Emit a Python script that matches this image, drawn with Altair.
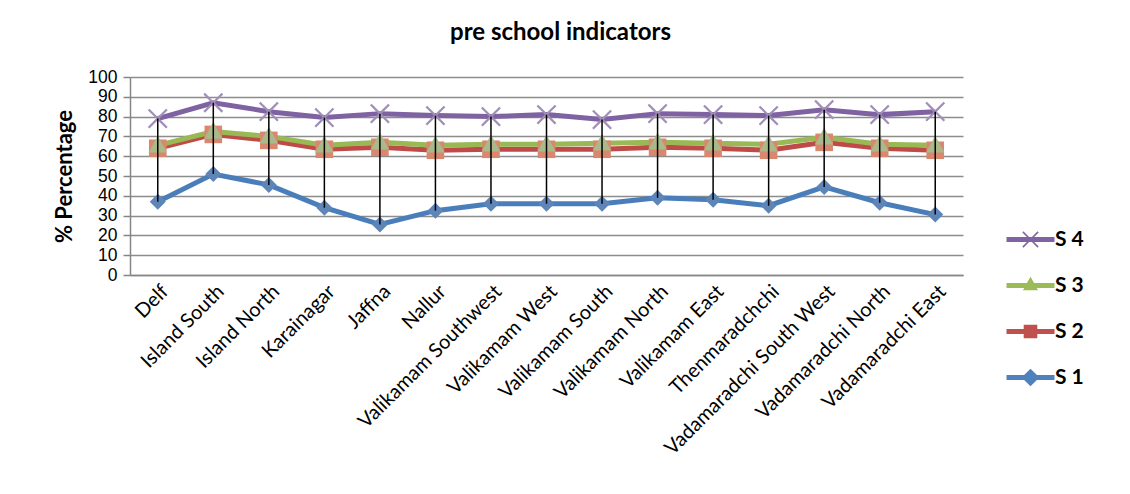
import altair as alt
import pandas as pd

districts = ["Delf", "Island South", "Island North", "Karainagar", "Jaffna", "Nallur",
             "Valikamam Southwest", "Valikamam West", "Valikamam South", "Valikamam North",
             "Valikamam East", "Thenmaradchchi", "Vadamaradchi South West",
             "Vadamaradchi North", "Vadamaradchi East"]
s1 = [37, 51, 45.5, 34, 25.5, 32.5, 36, 36, 36, 39, 38, 35, 44.5, 36.5, 30.5]
s2 = [64, 71, 68, 63.5, 64.5, 63, 63.5, 63.5, 63.5, 64.5, 64, 63, 67, 64, 63]
s3 = [65.5, 72.5, 70, 65.5, 67, 65.5, 66, 66, 66.5, 67, 66.5, 66, 69.5, 66, 65.5]
s4 = [79, 87, 82.5, 79.5, 81.5, 80.5, 80, 81, 78.5, 81.5, 81, 80.5, 83.5, 81, 82.5]
series_names = ["S 1", "S 2", "S 3", "S 4"]
y_ticks = [0, 10, 20, 30, 40, 50, 60, 70, 80, 90, 100]

line_colors = ["#4A7EBB", "#BE4B48", "#98B954", "#7E62A1"]
marker_colors = ["#5E85B8", "#D9876F", "#AAB98A", "#A08FB8"]
marker_paths = [
    "M0,-1L1,0L0,1L-1,0Z",
    "M-1.1,-1.1L1.1,-1.1L1.1,1.1L-1.1,1.1Z",
    "M0,-1.2L1.15,0.9L-1.15,0.9Z",
    "M0.2,0L1.24,1.04L1.04,1.24L0,0.2L-1.04,1.24L-1.24,1.04L-0.2,0L-1.24,-1.04L-1.04,-1.24L0,-0.2L1.04,-1.24L1.24,-1.04Z",
]
legend_order = ["S 4", "S 3", "S 2", "S 1"]
legend_colors = ["#8064A2", "#9BBB59", "#C0504D", "#4F81BD"]
legend_paths = [
    "M-3,-0.3L3,-0.3L3,0.3L-3,0.3Z M0.14,0L1.02,0.88L0.88,1.02L0,0.14L-0.88,1.02L-1.02,0.88L-0.14,0L-1.02,-0.88L-0.88,-1.02L0,-0.14L0.88,-1.02L1.02,-0.88Z",
    "M-3,-0.3L-0.45,-0.3L0,-1.1L0.45,-0.3L3,-0.3L3,0.3L0.78,0.3L0.95,0.6L-0.95,0.6L-0.78,0.3L-3,0.3Z",
    "M-3,-0.3L-0.85,-0.3L-0.85,-0.85L0.85,-0.85L0.85,-0.3L3,-0.3L3,0.3L0.85,0.3L0.85,0.85L-0.85,0.85L-0.85,0.3L-3,0.3Z",
    "M-3,-0.3L-0.8,-0.3L0,-1.1L0.8,-0.3L3,-0.3L3,0.3L0.8,0.3L0,1.1L-0.8,0.3L-3,0.3Z",
]

rows = []
for name, vals in zip(series_names, [s1, s2, s3, s4]):
    for d, v in zip(districts, vals):
        rows.append({"district": d, "series": name, "value": v})
df = pd.DataFrame(rows)

FONT = "Lato"

x_enc = alt.X("district:N", sort=districts, title=None,
              scale=alt.Scale(type="point", padding=0.5),
              axis=alt.Axis(labelAngle=-45, labelAlign="right", labelBaseline="top",
                            labelFont=FONT, labelFontSize=20, labelColor="black",
                            labelPadding=6, labelLimit=400, ticks=False, grid=False,
                            labelOverlap=False,
                            domainColor="#868686", domainWidth=1.5))
y_axis = alt.Axis(values=y_ticks, labelFont="Liberation Sans", labelFontSize=17.5,
                  labelColor="black", labelOverlap=False,
                  tickColor="#868686", tickSize=7, tickWidth=1.5, labelPadding=6,
                  domainColor="#868686", domainWidth=1.5, gridColor="#8C8C8C", gridWidth=1.5,
                  titleFont=FONT, titleFontSize=22, titleFontWeight="bold", titleColor="black",
                  titlePadding=11)
y_scale = alt.Scale(domain=[0, 100], nice=False)
y_enc = alt.Y("value:Q", scale=y_scale, axis=y_axis, title="% Percentage")

base = alt.Chart(df)

lines = base.mark_line(strokeWidth=5).encode(
    x=x_enc,
    y=y_enc,
    stroke=alt.Stroke("series:N", scale=alt.Scale(domain=series_names, range=line_colors), legend=None),
)

point_layers = []
for name, col, path in zip(series_names, marker_colors, marker_paths):
    point_layers.append(
        base.transform_filter(alt.datum.series == name)
        .mark_point(filled=True, size=256, opacity=1, strokeWidth=0, shape=path, fill=col)
        .encode(x=x_enc, y=y_enc)
    )

hilo = base.mark_rule(color="black", strokeWidth=1.5).encode(
    x=x_enc,
    y=alt.Y("min(value):Q", scale=y_scale, axis=y_axis, title="% Percentage"),
    y2="max(value):Q",
)

leg = alt.Legend(title=None, orient="none", legendX=890, legendY=152,
                 labelFont=FONT, labelFontSize=21, labelFontWeight="bold",
                 labelColor="black", labelOffset=14, rowPadding=24,
                 padding=0, symbolSize=256, symbolStrokeWidth=0, symbolOpacity=1)

legend_layer = base.transform_filter("false").mark_point(
    filled=True, size=256, opacity=1, strokeWidth=0
).encode(
    x=x_enc,
    y=y_enc,
    color=alt.Color("series:N", scale=alt.Scale(domain=legend_order, range=legend_colors), legend=leg),
    shape=alt.Shape("series:N", scale=alt.Scale(domain=legend_order, range=legend_paths), legend=leg),
)

chart = alt.layer(lines, *point_layers, hilo, legend_layer).properties(
    width=833, height=198,
    autosize=alt.AutoSizeParams(type="none"),
    padding={"left": 122, "top": 69, "right": 159, "bottom": 211},
    background="white",
    title=alt.TitleParams("pre school indicators", font=FONT, fontSize=24, fontWeight="bold",
                          color="black", anchor="middle", frame="group", offset=23, dx=14),
).configure_view(stroke=None)

chart.save("out.html", embed_options={"renderer": "svg", "actions": False})
